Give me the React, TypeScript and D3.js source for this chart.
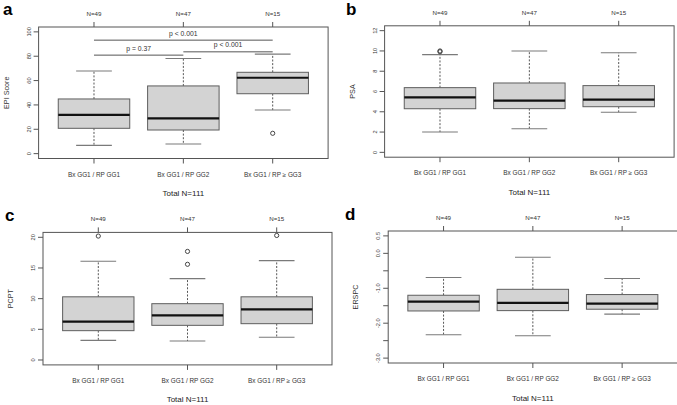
import React from "react";
import * as d3 from "d3";

// ---------- data ----------
const categories = ["Bx GG1 / RP GG1", "Bx GG1 / RP GG2", "Bx GG1 / RP \u2265 GG3"];
const groupCounts = ["N=49", "N=47", "N=15"];
const totalLabel = "Total N=111";

// five-number summaries: [lower whisker, Q1, median, Q3, upper whisker]
const epiStats = [
  [6.8, 20.8, 31.8, 44.9, 67.9],
  [7.9, 19.4, 29.0, 55.6, 78.1],
  [35.8, 49.2, 62.3, 66.8, 81.7],
];
const epiOutliers = [[], [], [16.7]];

const psaStats = [
  [2.0, 4.3, 5.42, 6.38, 9.64],
  [2.32, 4.31, 5.1, 6.84, 10.0],
  [3.96, 4.5, 5.2, 6.58, 9.82],
];
const psaOutliers = [[9.92, 10.0], [], []];

const pcptStats = [
  [3.2, 4.78, 6.25, 10.3, 16.1],
  [3.1, 5.65, 7.28, 9.18, 13.26],
  [3.7, 5.92, 8.26, 10.3, 16.2],
];
const pcptOutliers = [[20.2], [17.7, 15.6], [20.3]];

const erspcStats = [
  [-2.33, -1.65, -1.38, -1.2, -0.69],
  [-2.36, -1.64, -1.42, -1.03, -0.11],
  [-1.74, -1.6, -1.44, -1.18, -0.72],
];
const erspcOutliers = [[], [], []];

const epiTicks = [0, 20, 40, 60, 80, 100];
const epiTickLabels = ["0", "20", "40", "60", "80", "100"];
const psaTicks = [0, 2, 4, 6, 8, 10, 12];
const psaTickLabels = ["0", "2", "4", "6", "8", "10", "12"];
const pcptTicks = [0, 5, 10, 15, 20];
const pcptTickLabels = ["0", "5", "10", "15", "20"];
const erspcTicks = [0.5, 0, -0.5, -1, -1.5, -2, -2.5, -3];
const erspcTickLabels = ["0.5", "0.0", "", "-1.0", "", "-2.0", "", "-3.0"];

// significance annotations for panel a
const sigPairs = [[1, 3], [1, 2], [2, 3]];
const sigLabels = ["p < 0.001", "p = 0.37", "p < 0.001"];
const sigLevels = [93.2, 80.9, 83.6];

// ---------- layout ----------
const W = 677;
const H = 405;
const FONT = "'Liberation Sans', Arial, Helvetica, sans-serif";

type PanelDef = {
  letter: string;
  title: string;
  stats: number[][];
  outliers: number[][];
  ylim: [number, number];
  ticks: number[];
  tickLabels: string[];
  left: number;
  right: number;
  top: number;
  bottom: number;
  letterX: number;
  letterY: number;
  sig?: boolean;
};

const panels: PanelDef[] = [
  {
    letter: "a", title: "EPI Score", stats: epiStats, outliers: epiOutliers,
    ylim: [0, 100], ticks: epiTicks, tickLabels: epiTickLabels,
    left: 38.6, right: 328.1, top: 27, bottom: 158.5, letterX: 3, letterY: 15, sig: true,
  },
  {
    letter: "b", title: "PSA", stats: psaStats, outliers: psaOutliers,
    ylim: [0, 12], ticks: psaTicks, tickLabels: psaTickLabels,
    left: 384.6, right: 674.1, top: 25.8, bottom: 157.2, letterX: 346, letterY: 15,
  },
  {
    letter: "c", title: "PCPT", stats: pcptStats, outliers: pcptOutliers,
    ylim: [0, 20], ticks: pcptTicks, tickLabels: pcptTickLabels,
    left: 43, right: 332, top: 232.4, bottom: 364.9, letterX: 5, letterY: 221,
  },
  {
    letter: "d", title: "ERSPC", stats: erspcStats, outliers: erspcOutliers,
    ylim: [-3, 0.5], ticks: erspcTicks, tickLabels: erspcTickLabels,
    left: 388.2, right: 677.5, top: 231, bottom: 363, letterX: 345, letterY: 220,
  },
];

const TEXT = "#333";
const FRAME = "#555";

function Panel({ p }: { p: PanelDef }) {
  const ext = (p.ylim[1] - p.ylim[0]) * 0.04;
  const x = d3.scaleLinear().domain([0.38, 3.62]).range([p.left, p.right]);
  const y = d3.scaleLinear().domain([p.ylim[0] - ext, p.ylim[1] + ext]).range([p.bottom, p.top]);
  const boxHalf = (x(1.4) - x(0.6)) / 2;
  const capHalf = boxHalf / 2;
  const positions = categories.map((_, i) => i + 1);

  return (
    <g>
      <text x={p.letterX} y={p.letterY} fontFamily={FONT} fontWeight="bold" fontSize={17} fill="#000">
        {p.letter}
      </text>
      {/* boxes */}
      {p.stats.map((s, i) => {
        const cx = x(positions[i]);
        const [lo, q1, med, q3, hi] = s;
        return (
          <g key={i}>
            <line x1={cx} x2={cx} y1={y(q3)} y2={y(hi)} stroke="#444" strokeWidth={0.9} strokeDasharray="2,1.6" />
            <line x1={cx} x2={cx} y1={y(q1)} y2={y(lo)} stroke="#444" strokeWidth={0.9} strokeDasharray="2,1.6" />
            <line x1={cx - capHalf} x2={cx + capHalf} y1={y(hi)} y2={y(hi)} stroke="#7a7a7a" strokeWidth={1.1} />
            <line x1={cx - capHalf} x2={cx + capHalf} y1={y(lo)} y2={y(lo)} stroke="#7a7a7a" strokeWidth={1.1} />
            <rect x={cx - boxHalf} y={y(q3)} width={boxHalf * 2} height={y(q1) - y(q3)}
              fill="#d3d3d3" stroke="#5e5e5e" strokeWidth={1} />
            <line x1={cx - boxHalf} x2={cx + boxHalf} y1={y(med)} y2={y(med)} stroke="#111" strokeWidth={2.2} />
            {p.outliers[i].map((o, j) => (
              <circle key={j} cx={cx} cy={y(o)} r={2.1} fill="none" stroke="#333" strokeWidth={0.9} />
            ))}
          </g>
        );
      })}
      {/* frame */}
      <rect x={p.left} y={p.top} width={p.right - p.left} height={p.bottom - p.top}
        fill="none" stroke={FRAME} strokeWidth={1} />
      {/* left axis */}
      {p.ticks.map((t, i) => (
        <g key={i}>
          <line x1={p.left - 5} x2={p.left} y1={y(t)} y2={y(t)} stroke={FRAME} strokeWidth={1} />
          {p.tickLabels[i] !== "" && (
            <text transform={`translate(${p.left - 10},${y(t)}) rotate(-90)`} textAnchor="middle"
              dominantBaseline="central" fontFamily={FONT} fontSize={5.6} fill={TEXT}>
              {p.tickLabels[i]}
            </text>
          )}
        </g>
      ))}
      <text transform={`translate(${p.left - 32.5},${(p.top + p.bottom) / 2}) rotate(-90)`} textAnchor="middle"
        dominantBaseline="central" fontFamily={FONT} fontSize={7.2} fill={TEXT}>
        {p.title}
      </text>
      {/* top axis with group counts, bottom axis with categories */}
      {positions.map((pos, i) => (
        <g key={i}>
          <line x1={x(pos)} x2={x(pos)} y1={p.top - 5} y2={p.top} stroke={FRAME} strokeWidth={1} />
          <text x={x(pos)} y={p.top - 13.5} textAnchor="middle" dominantBaseline="central"
            fontFamily={FONT} fontSize={6.2} fill={TEXT}>
            {groupCounts[i]}
          </text>
          <line x1={x(pos)} x2={x(pos)} y1={p.bottom} y2={p.bottom + 5} stroke={FRAME} strokeWidth={1} />
          <text x={x(pos)} y={p.bottom + 15.5} textAnchor="middle" dominantBaseline="central"
            fontFamily={FONT} fontSize={6.4} fill={TEXT}>
            {categories[i]}
          </text>
        </g>
      ))}
      <text x={(p.left + p.right) / 2} y={p.bottom + 35} textAnchor="middle" dominantBaseline="central"
        fontFamily={FONT} fontSize={8} fill="#222">
        {totalLabel}
      </text>
      {/* significance */}
      {p.sig && sigPairs.map((pair, i) => {
        const x1 = x(pair[0]);
        const x2 = x(pair[1]);
        const yy = y(sigLevels[i]);
        return (
          <g key={i}>
            <line x1={x1} x2={x2} y1={yy} y2={yy} stroke="#555" strokeWidth={1} />
            <text x={(x1 + x2) / 2} y={yy - 7} textAnchor="middle" dominantBaseline="central"
              fontFamily={FONT} fontSize={6.8} fill={TEXT}>
              {sigLabels[i]}
            </text>
          </g>
        );
      })}
    </g>
  );
}

export default function App() {
  return (
    <svg width={W} height={H} viewBox={`0 0 ${W} ${H}`}
      style={{ position: "absolute", left: 0, top: 0, background: "#fff" }}>
      <rect x={0} y={0} width={W} height={H} fill="#fff" />
      {panels.map((p) => (
        <Panel key={p.letter} p={p} />
      ))}
    </svg>
  );
}
